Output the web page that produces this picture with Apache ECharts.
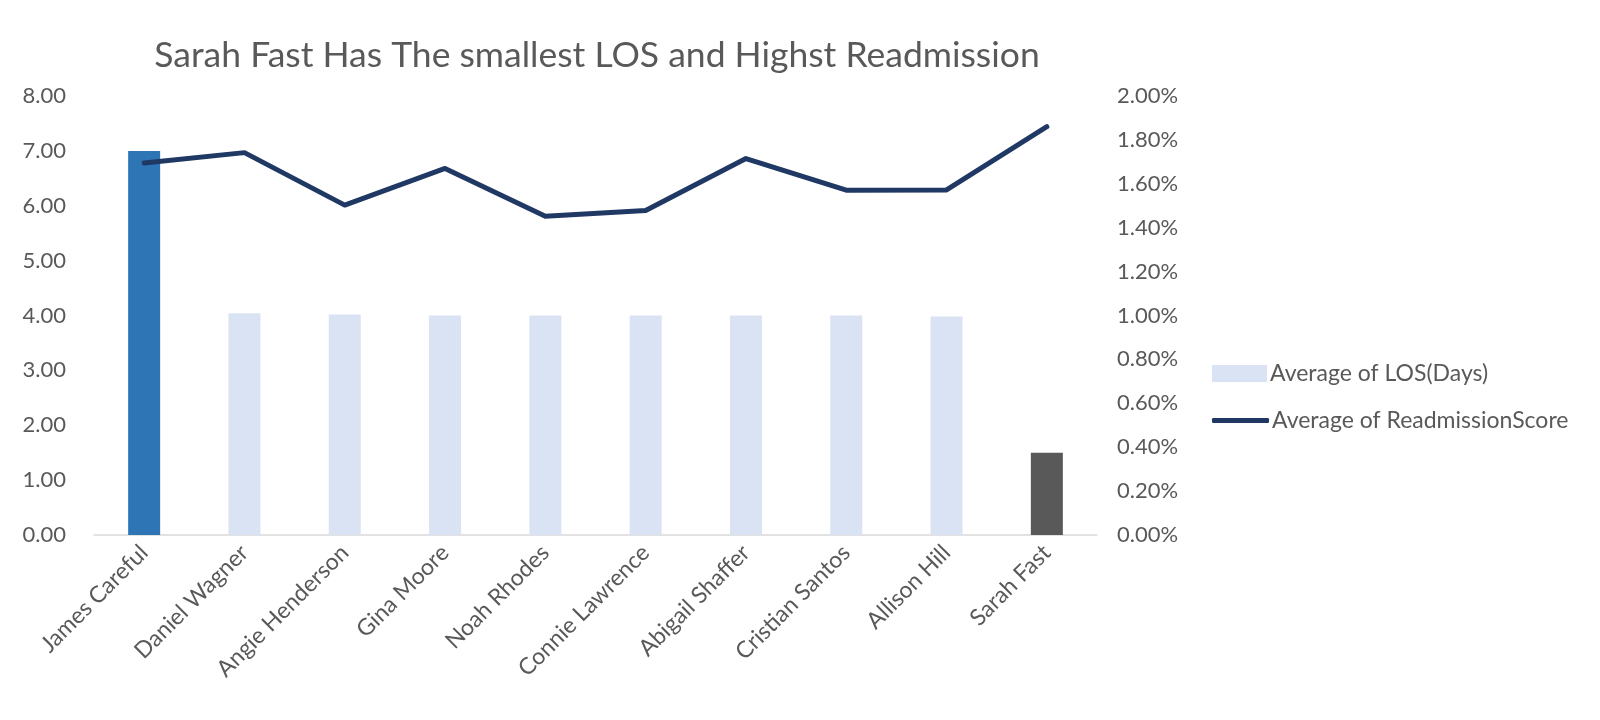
<!DOCTYPE html>
<html>
<head>
<meta charset="utf-8">
<script src="https://cdn.jsdelivr.net/npm/echarts@6/dist/echarts.min.js"></script>
<style>
  html, body { margin: 0; padding: 0; background: #fff; }
  #main { width: 1600px; height: 720px; }
</style>
</head>
<body>
<div id="main"></div>
<script>
var doctors = ['James Careful', 'Daniel Wagner', 'Angie Henderson', 'Gina Moore', 'Noah Rhodes',
    'Connie Lawrence', 'Abigail Shaffer', 'Cristian Santos', 'Allison Hill', 'Sarah Fast'];
var losDays = [7.00, 4.04, 4.02, 4.00, 4.00, 4.00, 4.00, 4.00, 3.98, 1.50];
var readmission = [0.01695, 0.01742, 0.01503, 0.01670, 0.01452, 0.01478, 0.01715, 0.01571, 0.01572, 0.01860];

var chart = echarts.init(document.getElementById('main'));
var font = 'Lato';
var txt = '#595959';

// bar colours: highlight first and last
function barColor(p) {
    if (p.dataIndex === 0) return '#2E75B6';
    if (p.dataIndex === doctors.length - 1) return '#595959';
    return '#DAE3F3';
}

var legendText = { fontFamily: font, fontSize: 23, color: txt, padding: [0, 0, 0, -2] };

var option = {
    backgroundColor: '#fff',
    textStyle: { fontFamily: font },
    title: {
        text: 'Sarah Fast Has The smallest LOS and Highst Readmission',
        left: 592,
        textAlign: 'center',
        top: 33,
        textStyle: { fontFamily: font, fontWeight: 'normal', fontSize: 35.5, color: txt }
    },
    legend: [{
        left: 1207,
        top: 357,
        itemWidth: 55,
        itemHeight: 17,
        textStyle: legendText,
        data: [{ name: 'Average of LOS(Days)', icon: 'rect', itemStyle: { color: '#DAE3F3' } }]
    }, {
        left: 1207,
        top: 404,
        itemWidth: 57,
        itemHeight: 5,
        textStyle: legendText,
        data: [{ name: 'Average of ReadmissionScore', icon: 'roundRect', itemStyle: { color: '#203864' } }]
    }],
    grid: { left: 94, right: 503, top: 96, bottom: 185 },
    xAxis: {
        type: 'category',
        data: doctors,
        axisLine: { lineStyle: { color: '#D9D9D9', width: 1.5 } },
        axisTick: { show: false },
        axisLabel: { rotate: 45, fontSize: 23, color: txt, fontFamily: font, margin: 14 }
    },
    yAxis: [{
        type: 'value',
        min: 0, max: 8, interval: 1,
        splitLine: { show: false },
        axisLabel: { fontSize: 22, color: txt, fontFamily: font, margin: 28,
            formatter: function (v) { return v.toFixed(2); } }
    }, {
        type: 'value',
        min: 0, max: 0.02, interval: 0.002,
        position: 'right',
        splitLine: { show: false },
        axisLabel: { fontSize: 22, color: txt, fontFamily: font, margin: 20,
            formatter: function (v) { return (v * 100).toFixed(2) + '%'; } }
    }],
    series: [{
        name: 'Average of LOS(Days)',
        type: 'bar',
        data: losDays,
        barWidth: 32,
        itemStyle: { color: barColor }
    }, {
        name: 'Average of ReadmissionScore',
        type: 'line',
        yAxisIndex: 1,
        data: readmission,
        symbol: 'none',
        lineStyle: { color: '#203864', width: 5, cap: 'round', join: 'round' },
        itemStyle: { color: '#203864' }
    }]
};

chart.setOption(option);
</script>
</body>
</html>
